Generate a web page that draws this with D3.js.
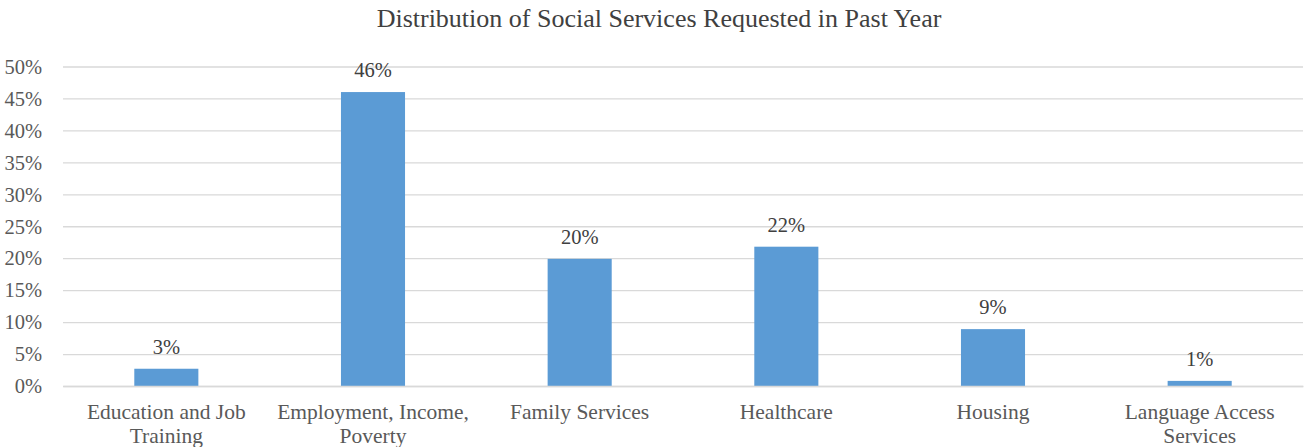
<!DOCTYPE html>
<html><head><meta charset="utf-8">
<script src="https://cdn.jsdelivr.net/npm/d3@7"></script>
<style>body{margin:0;background:#fff}svg{display:block}</style>
</head><body><svg id="c" width="1306" height="447"></svg>
<script>
const categories = [["Education and Job","Training"],["Employment, Income,","Poverty"],["Family Services"],["Healthcare"],["Housing"],["Language Access","Services"]];
const values = [2.7, 46.0, 19.9, 21.8, 8.9, 0.8];
const yTicks = [0,5,10,15,20,25,30,35,40,45,50];
const title = "Distribution of Social Services Requested in Past Year";

(function(){
const FF = "'Liberation Serif'";
const svg = d3.select("#c");
const mLeft = 63, mRight = 1303, mTop = 66.5, mBottom = 386;
const keys = categories.map((c,i)=>i);
const x = d3.scaleBand().domain(keys).range([mLeft,mRight]).paddingInner(0).paddingOuter(0);
const y = d3.scaleLinear().domain([0,50]).range([mBottom,mTop]);
const bw = x.bandwidth()*0.31;

svg.append("text").attr("x", 659).attr("y", 27).attr("text-anchor","middle")
  .style("font-family",FF).style("font-size","26px").attr("fill","#404040").text(title);

const ga = svg.append("g").attr("transform",`translate(${mLeft},0)`)
  .call(d3.axisLeft(y).tickValues(yTicks).tickFormat(d=>d+"%").tickSize(-(mRight-mLeft)).tickPadding(21));
ga.select(".domain").remove();
ga.selectAll(".tick line").attr("stroke","#D9D9D9").attr("stroke-width",1.3);
ga.selectAll(".tick text").style("font-size","20.5px").attr("fill","#595959").style("font-family",FF).attr("dy","0.33em");

svg.selectAll("rect.bar").data(values).enter().append("rect")
  .attr("class","bar")
  .attr("x",(d,i)=>x(i)+x.bandwidth()/2-bw/2)
  .attr("width",bw)
  .attr("y",d=>y(d))
  .attr("height",d=>y(0)-y(d))
  .attr("fill","#5B9BD5");

svg.selectAll("text.lbl").data(values).enter().append("text")
  .attr("class","lbl")
  .attr("x",(d,i)=>x(i)+x.bandwidth()/2)
  .attr("y",d=>y(d)-15)
  .style("font-family",FF)
  .attr("text-anchor","middle").style("font-size","20.5px").attr("fill","#404040")
  .text(d=>Math.round(d)+"%");

const gx = svg.append("g").attr("transform",`translate(0,${mBottom})`)
  .call(d3.axisBottom(x).tickSize(0).tickFormat(""));
gx.select(".domain").attr("stroke","#D9D9D9").attr("stroke-width",1.3);
categories.forEach((lines,i)=>{
  const t = svg.append("text").attr("x",x(i)+x.bandwidth()/2).attr("y",419)
    .style("font-family",FF)
    .attr("text-anchor","middle").style("font-size","21.5px").attr("fill","#595959");
  lines.forEach((l,j)=>t.append("tspan").attr("x",x(i)+x.bandwidth()/2).attr("dy",j?23.5:0).text(l));
});
})();
</script></body></html>
